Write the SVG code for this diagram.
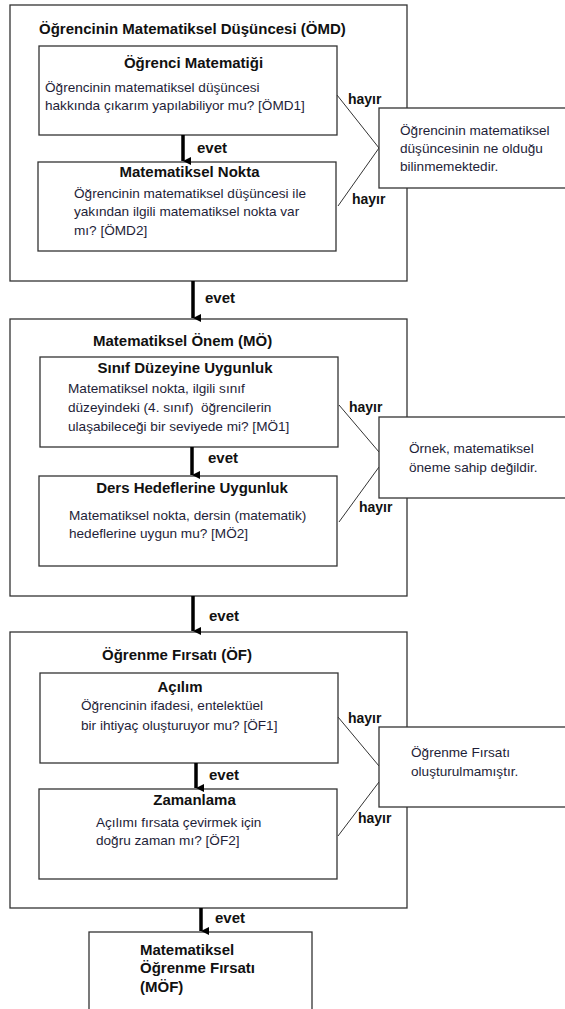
<svg xmlns="http://www.w3.org/2000/svg" width="565" height="1009" viewBox="0 0 565 1009">
<style>
.box{fill:#fff;stroke:#333;stroke-width:1.3}
.outer{fill:#fff;stroke:#333;stroke-width:1.3}
.t{font-family:"Liberation Sans",Arial,sans-serif;font-weight:bold;font-size:15px;fill:#111}
.b{font-family:"Liberation Sans",Arial,sans-serif;font-size:13.6px;fill:#1e1e38}
.h{font-family:"Liberation Sans",Arial,sans-serif;font-weight:bold;font-size:14px;fill:#111}
.e{font-family:"Liberation Sans",Arial,sans-serif;font-weight:bold;font-size:15px;fill:#111}
.arr{stroke:#000;stroke-width:3.5;fill:none}
.no{stroke:#333;stroke-width:1;fill:none}
</style>
<defs>
<marker id="ah" markerUnits="userSpaceOnUse" markerWidth="10" markerHeight="12" refX="4" refY="10" orient="auto" viewBox="0 0 8 12">
<path d="M0,2 L8,2 L4,10 z" fill="#000"/>
</marker>
</defs>
<rect width="565" height="1009" fill="#fff"/>

<g id="omd">
<rect class="outer" x="10" y="5" width="397" height="276"/>
<text class="t" x="39" y="34">Öğrencinin Matematiksel Düşüncesi (ÖMD)</text>
</g>
<g id="omd1">
<rect class="box" x="39" y="46" width="298" height="89"/>
<text class="t" x="193.5" y="68" text-anchor="middle">Öğrenci Matematiği</text>
<text class="b" x="45" y="92">Öğrencinin matematiksel düşüncesi</text>
<text class="b" x="45" y="110">hakkında çıkarım yapılabiliyor mu? [ÖMD1]</text>
</g>
<g id="omd2">
<rect class="box" x="38" y="162" width="298" height="89"/>
<text class="t" x="189.5" y="177" text-anchor="middle">Matematiksel Nokta</text>
<text class="b" x="74" y="198">Öğrencinin matematiksel düşüncesi ile</text>
<text class="b" x="74" y="216">yakından ilgili matematiksel nokta var</text>
<text class="b" x="74" y="235">mı? [ÖMD2]</text>
</g>

<g id="mo">
<rect class="outer" x="10" y="319" width="397" height="277"/>
<text class="t" x="93" y="346">Matematiksel Önem (MÖ)</text>
</g>
<g id="mo1">
<rect class="box" x="40" y="357" width="298" height="90"/>
<text class="t" x="185" y="373" text-anchor="middle">Sınıf Düzeyine Uygunluk</text>
<text class="b" x="68" y="393">Matematiksel nokta, ilgili sınıf</text>
<text class="b" x="68" y="412" xml:space="preserve">düzeyindeki (4. sınıf)  öğrencilerin</text>
<text class="b" x="68" y="431">ulaşabileceği bir seviyede mi? [MÖ1]</text>
</g>
<g id="mo2">
<rect class="box" x="39" y="476" width="298" height="90"/>
<text class="t" x="192" y="493" text-anchor="middle">Ders Hedeflerine Uygunluk</text>
<text class="b" x="69" y="520">Matematiksel nokta, dersin (matematik)</text>
<text class="b" x="69" y="538">hedeflerine uygun mu? [MÖ2]</text>
</g>

<g id="of">
<rect class="outer" x="10" y="632" width="397" height="276"/>
<text class="t" x="102" y="660">Öğrenme Fırsatı (ÖF)</text>
</g>
<g id="of1">
<rect class="box" x="40" y="673" width="298" height="90"/>
<text class="t" x="180" y="692" text-anchor="middle">Açılım</text>
<text class="b" x="81" y="710">Öğrencinin ifadesi, entelektüel</text>
<text class="b" x="81" y="730">bir ihtiyaç oluşturuyor mu? [ÖF1]</text>
</g>
<g id="of2">
<rect class="box" x="39" y="789" width="298" height="90"/>
<text class="t" x="194.5" y="805" text-anchor="middle">Zamanlama</text>
<text class="b" x="96" y="827">Açılımı fırsata çevirmek için</text>
<text class="b" x="96" y="845">doğru zaman mı? [ÖF2]</text>
</g>

<g id="mof">
<rect class="box" x="89" y="932" width="223" height="90"/>
<text class="t" x="140" y="955">Matematiksel</text>
<text class="t" x="140" y="973">Öğrenme Fırsatı</text>
<text class="t" x="140" y="992">(MÖF)</text>
</g>

<g id="connectors">
<line class="arr" x1="183" y1="135" x2="183" y2="161" marker-end="url(#ah)"/>
<line class="arr" x1="193" y1="281" x2="193" y2="318" marker-end="url(#ah)"/>
<line class="arr" x1="192" y1="447" x2="192" y2="475" marker-end="url(#ah)"/>
<line class="arr" x1="193" y1="596" x2="193" y2="631" marker-end="url(#ah)"/>
<line class="arr" x1="196" y1="763" x2="196" y2="788" marker-end="url(#ah)"/>
<line class="arr" x1="201" y1="908" x2="201" y2="931" marker-end="url(#ah)"/>
<line class="no" x1="337" y1="95" x2="379" y2="148"/>
<line class="no" x1="379" y1="148" x2="338" y2="206"/>
<line class="no" x1="339" y1="405" x2="379" y2="452"/>
<line class="no" x1="379" y1="467" x2="339" y2="522"/>
<line class="no" x1="338" y1="717" x2="379" y2="766"/>
<line class="no" x1="379" y1="782" x2="338" y2="836"/>
<text class="e" x="197" y="153">evet</text>
<text class="e" x="205" y="303">evet</text>
<text class="e" x="208" y="463">evet</text>
<text class="e" x="209" y="621">evet</text>
<text class="e" x="209" y="780">evet</text>
<text class="e" x="215" y="923">evet</text>
<text class="h" x="348" y="104">hayır</text>
<text class="h" x="352" y="204">hayır</text>
<text class="h" x="349" y="412">hayır</text>
<text class="h" x="359" y="512">hayır</text>
<text class="h" x="348" y="723">hayır</text>
<text class="h" x="358" y="823">hayır</text>
</g>

<g id="note1">
<rect class="box" x="379" y="108" width="200" height="80"/>
<text class="b" x="400" y="135">Öğrencinin matematiksel</text>
<text class="b" x="400" y="153">düşüncesinin ne olduğu</text>
<text class="b" x="400" y="171">bilinmemektedir.</text>
</g>
<g id="note2">
<rect class="box" x="379" y="417" width="200" height="81"/>
<text class="b" x="409" y="453">Örnek, matematiksel</text>
<text class="b" x="409" y="472">öneme sahip değildir.</text>
</g>
<g id="note3">
<rect class="box" x="379" y="727" width="200" height="80"/>
<text class="b" x="411" y="757">Öğrenme Fırsatı</text>
<text class="b" x="411" y="776">oluşturulmamıştır.</text>
</g>
</svg>
